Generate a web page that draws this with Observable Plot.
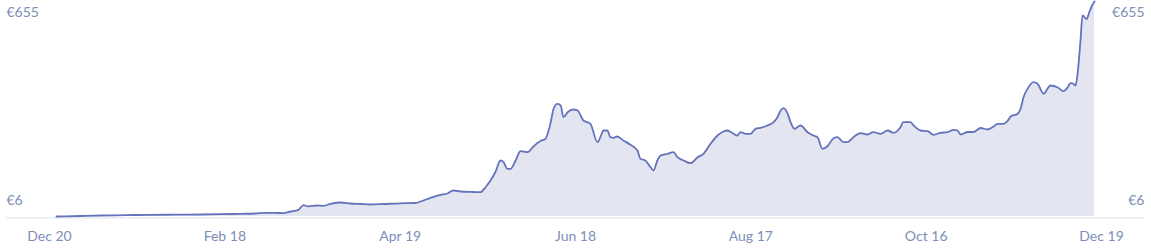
<!DOCTYPE html>
<html><head><meta charset="utf-8">
<script src="https://cdn.jsdelivr.net/npm/d3@7"></script>
<script src="https://cdn.jsdelivr.net/npm/@observablehq/plot@0.6"></script>
<style>body{margin:0;background:#fff}</style>
</head><body><div id="chart"></div>
<script>
const days = [2.4,10.6,17.5,26.0,34.6,43.1,51.7,58.5,65.4,70.5,
73.9,77.3,80.1,82.5,85.2,86.9,88.6,91.4,93.8,96.2,
99.6,103.0,106.4,109.8,114.3,120.1,125.2,127.0,130.4,133.8,
136.2,138.2,140.6,145.1,147.5,149.2,150.9,152.6,154.3,155.4,
156.7,157.8,159.5,161.2,163.6,165.6,168.0,169.7,171.4,172.5,
173.8,174.9,175.9,177.3,179.3,180.7,182.7,185.1,187.5,188.5,
189.6,190.9,191.9,193.0,194.3,196.4,198.8,201.2,202.2,203.9,
205.7,206.7,208.0,209.1,211.5,213.5,214.9,217.0,219.4,221.8,
223.8,226.2,228.6,230.6,232.0,234.1,235.4,236.5,238.2,239.9,
241.6,243.3,245.7,247.8,249.1,250.2,251.2,252.6,253.6,254.9,
257.0,259.4,261.4,262.8,264.5,266.2,268.3,269.6,271.7,273.1,
275.1,277.5,279.9,281.9,284.4,286.8,288.8,291.2,292.2,294.6,
295.7,298.1,300.5,302.5,304.9,307.3,309.4,310.7,311.8,314.2,
316.2,318.6,321.0,323.1,324.4,326.5,327.8,328.9,331.3,332.3,
333.3,334.7,336.7,338.1,340.2,341.5,342.5,344.9,347.0,348.3,
349.4,350.4,351.1,351.8,352.8,353.5,354.9,355.9,356.6,357.6];
const prices = [6,7.5,9.0,9.9,11.1,11.4,12.0,12.9,14.1,15.1,
17.2,17.2,16.0,21.1,26.2,40.1,36.8,39.2,38.3,44.3,
48.3,45.2,43.7,42.2,43.7,45.8,46.8,51.3,62.4,71.5,
75.4,84.5,81.5,80.0,79.4,94.4,114.7,140.3,175.0,169.9,
150.0,150.0,175.0,203.1,200.1,217.3,233.9,240.5,285.8,331.1,
346.2,341.1,305.7,320.8,329.0,326.0,295.8,285.8,230.3,245.4,
265.6,265.6,245.4,243.6,247.5,235.4,222.4,205.2,180.2,175.0,
154.8,144.9,175.0,190.1,195.3,200.1,185.0,175.0,166.9,185.0,
195.3,225.5,250.5,262.6,265.6,255.6,250.5,260.5,255.6,255.6,
270.7,273.7,280.7,290.6,305.7,326.0,332.9,316.0,290.6,270.7,
280.7,260.5,250.5,245.4,210.4,218.2,242.4,245.4,230.3,230.3,
245.4,257.5,253.5,260.5,255.6,265.6,258.7,275.6,290.6,290.6,
280.7,265.6,263.5,252.6,258.7,260.5,267.7,265.6,253.5,261.1,
261.1,273.1,268.6,277.7,285.8,285.8,293.7,307.9,316.0,331.1,
366.1,391.5,411.4,406.6,376.4,391.5,401.4,396.3,384.2,394.5,
408.4,406.6,401.4,436.8,537.3,612.7,602.2,624.8,639.9,655];
const tickDays = [0,60,120,180,240,300,360];
const tickLabels = ["Dec 20","Feb 18","Apr 19","Jun 18","Aug 17","Oct 16","Dec 19"];
const yMin = 6, yMax = 655;

const data = days.map((d, i) => ({day: d, price: prices[i]}));
const labelColor = "#7d8eb9";
const fmt = d => "€" + d;

const chart = Plot.plot({
  width: 1151, height: 252,
  marginLeft: 6, marginRight: 7, marginTop: 1, marginBottom: 36,
  style: {fontFamily: "Lato", fontSize: "14px", color: labelColor, background: "#fff"},
  x: {domain: [-14.71, 374.7], ticks: tickDays, tickFormat: d => tickLabels[tickDays.indexOf(d)], tickSize: 0, tickPadding: 15, label: null},
  y: {domain: [yMin, yMax], axis: null},
  marks: [
    Plot.areaY(data, {x: "day", y1: yMin, y2: "price", fill: "#e3e5f1", curve: "monotone-x"}),
    Plot.ruleY([yMin], {stroke: "#dcdfe8", dy: 1.5}),
    Plot.lineY(data, {x: "day", y: "price", stroke: "#6573bc", strokeWidth: 1.8, curve: "monotone-x"}),
    Plot.text([yMax], {y: d => d, text: fmt, frameAnchor: "left", textAnchor: "start", dy: 11, fill: labelColor}),
    Plot.text([yMax], {y: d => d, text: fmt, frameAnchor: "right", textAnchor: "end", dy: 11, fill: labelColor}),
    Plot.text([yMin], {y: d => d, text: fmt, frameAnchor: "left", textAnchor: "start", dy: -16, fill: labelColor}),
    Plot.text([yMin], {y: d => d, text: fmt, frameAnchor: "right", textAnchor: "end", dy: -16, fill: labelColor})
  ]
});
document.getElementById("chart").appendChild(chart);
</script>
</body></html>
